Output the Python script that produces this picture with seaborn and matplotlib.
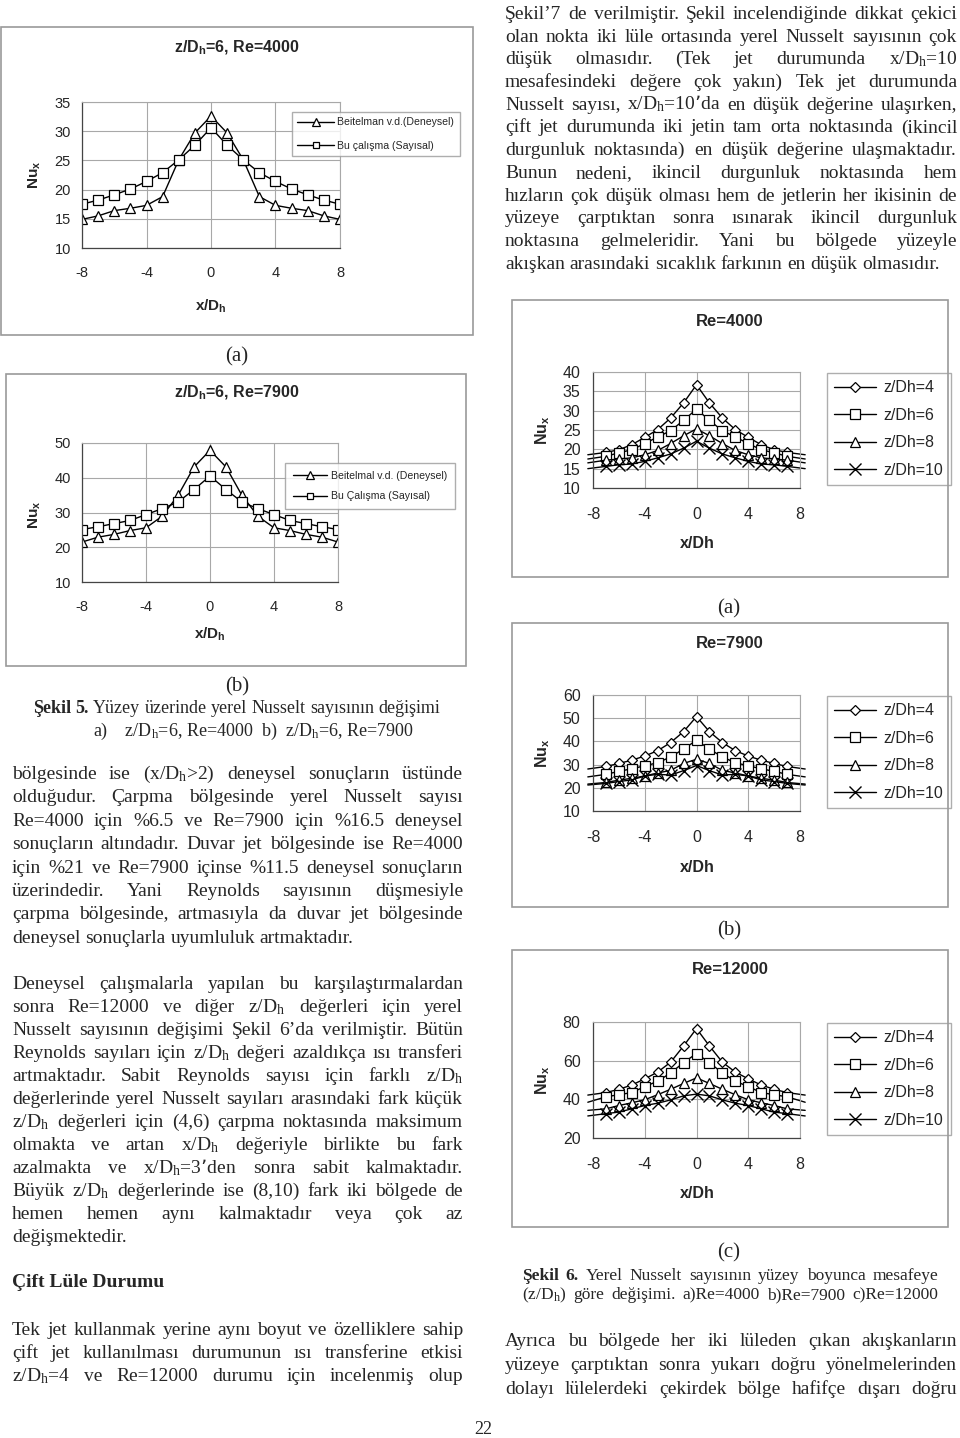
"""
Sayfa 22 - Sekil 5 ve Sekil 6 (yerel Nusselt sayisi dagilimlari)
"""

import matplotlib
matplotlib.use("Agg")
import matplotlib.pyplot as plt
import seaborn as sns
from matplotlib.patches import Rectangle
from matplotlib.lines import Line2D

W, H = 960, 1438

# ---- Sekil 5: tek jet, deneysel / sayisal karsilastirma ----
x_single = [-8, -7, -6, -5, -4, -3, -2, -1, 0, 1, 2, 3, 4, 5, 6, 7, 8]
re4000_deneysel = [14.9, 15.5, 16.4, 16.8, 17.3, 18.8, 25.1, 29.7, 32.6,
                   29.7, 25.1, 18.8, 17.3, 16.8, 16.4, 15.5, 14.9]
re4000_sayisal = [17.5, 18.2, 19.1, 20.1, 21.4, 22.9, 25.1, 27.6, 30.6,
                  27.6, 25.1, 22.9, 21.4, 20.1, 19.1, 18.2, 17.5]
re7900_deneysel = [21.5, 22.9, 23.7, 24.8, 25.6, 28.9, 34.9, 43.1, 47.9,
                   43.1, 34.9, 28.9, 25.6, 24.8, 23.7, 22.9, 21.5]
re7900_sayisal = [25.1, 25.9, 26.8, 27.7, 29.4, 31.1, 33.0, 36.6, 40.5,
                  36.6, 33.0, 31.1, 29.4, 27.7, 26.8, 25.9, 25.1]

# ---- Sekil 6: farkli z/Dh (uc noktalar isaretsiz) ----
x_double = [-8.4, -7, -6, -5, -4, -3, -2, -1, 0, 1, 2, 3, 4, 5, 6, 7, 8.4]
zdh_labels = ["z/Dh=4", "z/Dh=6", "z/Dh=8", "z/Dh=10"]
re4000_z = [
    [18.6, 19.2, 19.9, 21.2, 23.1, 25.1, 28.1, 32.0, 36.7, 32.0, 28.1, 25.1, 23.1, 21.2, 19.9, 19.2, 18.6],
    [17.5, 18.2, 19.1, 19.9, 21.5, 23.2, 24.8, 27.5, 30.4, 27.5, 24.8, 23.2, 21.5, 19.9, 19.1, 18.2, 17.5],
    [16.5, 17.2, 17.5, 17.8, 18.6, 19.7, 21.5, 23.5, 25.3, 23.5, 21.5, 19.7, 18.6, 17.8, 17.5, 17.2, 16.5],
    [15.0, 15.6, 16.0, 16.2, 16.9, 17.8, 18.8, 20.3, 22.1, 20.3, 18.8, 17.8, 16.9, 16.2, 16.0, 15.6, 15.0],
]
re7900_z = [
    [28.1, 29.2, 30.5, 31.9, 33.7, 36.0, 39.5, 44.2, 50.7, 44.2, 39.5, 36.0, 33.7, 31.9, 30.5, 29.2, 28.1],
    [24.7, 25.8, 27.1, 28.2, 29.5, 30.8, 33.3, 36.7, 40.5, 36.7, 33.3, 30.8, 29.5, 28.2, 27.1, 25.8, 24.7],
    [21.6, 22.3, 23.3, 24.1, 25.1, 26.4, 27.5, 30.5, 32.3, 30.5, 27.5, 26.4, 25.1, 24.1, 23.3, 22.3, 21.6],
    [21.2, 21.9, 22.7, 23.4, 25.1, 25.8, 25.5, 27.4, 29.6, 27.4, 25.5, 25.8, 25.1, 23.4, 22.7, 21.9, 21.2],
]
re12000_z = [
    [42.2, 43.5, 45.2, 47.4, 50.6, 54.1, 59.2, 67.6, 76.6, 67.6, 59.2, 54.1, 50.6, 47.4, 45.2, 43.5, 42.2],
    [38.5, 41.3, 42.4, 43.5, 46.6, 49.4, 53.6, 59.0, 63.7, 59.0, 53.6, 49.4, 46.6, 43.5, 42.4, 41.3, 38.5],
    [34.3, 35.1, 36.8, 38.2, 39.8, 42.4, 45.2, 48.2, 51.1, 48.2, 45.2, 42.4, 39.8, 38.2, 36.8, 35.1, 34.3],
    [31.4, 32.6, 33.4, 35.1, 36.8, 38.0, 39.7, 41.8, 42.7, 41.8, 39.7, 38.0, 36.8, 35.1, 33.4, 32.6, 31.4],
]
x_ticks = [-8, -4, 0, 4, 8]

# ---- sayfa metni ----
right_top_lines = [
    "Şekil’7 de verilmiştir. Şekil incelendiğinde dikkat çekici",
    "olan nokta iki lüle ortasında yerel Nusselt sayısının çok",
    "düşük olmasıdır. (Tek jet durumunda x/D$_h$=10",
    "mesafesindeki değere çok yakın) Tek jet durumunda",
    "Nusselt sayısı, x/D$_h$=10’da en düşük değerine ulaşırken,",
    "çift jet durumunda iki jetin tam orta noktasında (ikincil",
    "durgunluk noktasında) en düşük değerine ulaşmaktadır.",
    "Bunun nedeni, ikincil durgunluk noktasında hem",
    "hızların çok düşük olması hem de jetlerin her ikisinin de",
    "yüzeye çarptıktan sonra ısınarak ikincil durgunluk",
    "noktasına gelmeleridir. Yani bu bölgede yüzeyle",
    "akışkan arasındaki sıcaklık farkının en düşük olmasıdır.",
]
left_par1 = [
    "bölgesinde ise (x/D$_h$>2) deneysel sonuçların üstünde",
    "olduğudur. Çarpma bölgesinde yerel Nusselt sayısı",
    "Re=4000 için %6.5 ve Re=7900 için %16.5 deneysel",
    "sonuçların altındadır. Duvar jet bölgesinde ise Re=4000",
    "için %21 ve Re=7900 içinse %11.5 deneysel sonuçların",
    "üzerindedir. Yani Reynolds sayısının düşmesiyle",
    "çarpma bölgesinde, artmasıyla da duvar jet bölgesinde",
    "deneysel sonuçlarla uyumluluk artmaktadır.",
]
left_par2 = [
    "Deneysel çalışmalarla yapılan bu karşılaştırmalardan",
    "sonra Re=12000 ve diğer z/D$_h$ değerleri için yerel",
    "Nusselt sayısının değişimi Şekil 6’da verilmiştir. Bütün",
    "Reynolds sayıları için z/D$_h$ değeri azaldıkça ısı transferi",
    "artmaktadır. Sabit Reynolds sayısı için farklı z/D$_h$",
    "değerlerinde yerel Nusselt sayıları arasındaki fark küçük",
    "z/D$_h$ değerleri için (4,6) çarpma noktasında maksimum",
    "olmakta ve artan x/D$_h$ değeriyle birlikte bu fark",
    "azalmakta ve x/D$_h$=3’den sonra sabit kalmaktadır.",
    "Büyük z/D$_h$ değerlerinde ise (8,10) fark iki bölgede de",
    "hemen hemen aynı kalmaktadır veya çok az",
    "değişmektedir.",
]
left_par3 = [
    "Tek jet kullanmak yerine aynı boyut ve özelliklere sahip",
    "çift jet kullanılması durumunun ısı transferine etkisi",
    "z/D$_h$=4 ve Re=12000 durumu için incelenmiş olup",
]
right_par = [
    "Ayrıca bu bölgede her iki lüleden çıkan akışkanların",
    "yüzeye çarptıktan sonra yukarı doğru yönelmelerinden",
    "dolayı lülelerdeki çekirdek bölge hafifçe dışarı doğru",
]
sekil6_caption = [
    "Şekil 6. Yerel Nusselt sayısının yüzey boyunca mesafeye",
    "(z/D$_h$) göre değişimi. a)Re=4000 b)Re=7900 c)Re=12000",
]

sns.set_theme(style="white")
plt.rcParams["font.family"] = ["Liberation Sans", "DejaVu Sans"]
plt.rcParams["mathtext.default"] = "regular"
plt.rcParams["axes.unicode_minus"] = False
SERIF = ["Liberation Serif", "DejaVu Serif"]
GRID = "#a8a8a8"
BOX = "#9a9a9a"

fig = plt.figure(figsize=(W / 100, H / 100), dpi=100)
fig.patch.set_facecolor("white")
renderer = fig.canvas.get_renderer()


def fx(x):
    return x / W


def fy(y):
    return 1 - y / H


def put(x, y, s, size, **kw):
    return fig.text(fx(x), fy(y), s, fontsize=size, **kw)


def axes_px(x0, y0, x1, y1):
    return fig.add_axes([fx(x0), fy(y1), (x1 - x0) / W, (y1 - y0) / H])


def frame(x0, y0, x1, y1):
    fig.add_artist(Rectangle((fx(x0), fy(y1)), (x1 - x0) / W, (y1 - y0) / H,
                             transform=fig.transFigure, fill=False,
                             ec=BOX, lw=1.2))


def justify(line, x0, x1, base, size=14, bold_words=0, last=False):
    words = line.split(" ")
    texts = []
    for i, w in enumerate(words):
        t = put(0, base, w, size, family=SERIF, va="baseline",
                weight="bold" if i < bold_words else "normal")
        texts.append(t)
    widths = [t.get_window_extent(renderer).width for t in texts]
    if last or len(words) == 1:
        gap = size * 100 / 72 * 0.25
    else:
        gap = (x1 - x0 - sum(widths)) / (len(words) - 1)
    x = x0
    for t, w in zip(texts, widths):
        t.set_position((fx(x), fy(base)))
        x += w + gap


def style_axes(ax, ylim, yticks, size, xpad, ypad):
    ax.set_xlim(-8, 8)
    ax.set_xticks(x_ticks)
    ax.set_ylim(*ylim)
    ax.set_yticks(yticks)
    ax.set_xlabel("")
    ax.set_ylabel("")
    ax.grid(True, color=GRID, lw=0.8)
    ax.set_axisbelow(True)
    for s in ["top", "right"]:
        ax.spines[s].set_color(GRID)
        ax.spines[s].set_linewidth(0.8)
    for s in ["left", "bottom"]:
        ax.spines[s].set_color("#444444")
        ax.spines[s].set_linewidth(0.9)
    ax.tick_params(axis="both", direction="out", length=3, width=0.8,
                   color="#444444", labelsize=size)
    ax.tick_params(axis="x", pad=xpad)
    ax.tick_params(axis="y", pad=ypad)


def add_legend(ax, handles, labels, x0, y0, size, hl, ls, bp, htp):
    leg = ax.legend(handles, labels, loc="upper left",
                    bbox_to_anchor=(fx(x0), fy(y0)),
                    bbox_transform=fig.transFigure, fontsize=size,
                    frameon=True, fancybox=False, edgecolor=BOX,
                    handlelength=hl, labelspacing=ls, borderpad=bp,
                    handletextpad=htp, borderaxespad=0)
    leg.get_frame().set_linewidth(1.0)


def handle(marker, ms, mew=0.9):
    return Line2D([], [], color="black", lw=1.0, marker=marker, ms=ms,
                  mfc="white", mec="black", mew=mew)


# ===================== Sekil 5 =====================
single_cfg = [
    dict(box=(1, 27, 473, 335), area=(82, 102, 340, 248),
         title="z/D$_h$=6, Re=4000", title_y=48,
         deney=re4000_deneysel, sayisal=re4000_sayisal,
         labels=["Beitelman v.d.(Deneysel)", "Bu çalışma (Sayısal)"],
         leg=(292, 112), leg_style=(7.6, 3.5, 1.3, 0.5, 0.3),
         ylim=(10, 35), yticks=[10, 15, 20, 25, 30, 35],
         ylab_y=175, xlab_y=306),
    dict(box=(6, 374, 466, 666), area=(82, 443, 338, 582),
         title="z/D$_h$=6, Re=7900", title_y=393,
         deney=re7900_deneysel, sayisal=re7900_sayisal,
         labels=["Beitelmal v.d. (Deneysel)", "Bu Çalışma (Sayısal)"],
         leg=(285, 463), leg_style=(7.6, 3.2, 1.0, 0.75, 0.4),
         ylim=(10, 50), yticks=[10, 20, 30, 40, 50],
         ylab_y=515, xlab_y=634),
]

for cfg in single_cfg:
    frame(*cfg["box"])
    ax = axes_px(*cfg["area"])
    sns.lineplot(x=x_single, y=cfg["deney"], ax=ax, color="black", lw=1.0,
                 marker="^", ms=7.5, mfc="white", mec="black", mew=0.9,
                 estimator=None)
    sns.lineplot(x=x_single, y=cfg["sayisal"], ax=ax, color="black", lw=1.0,
                 marker="s", ms=6.5, mfc="white", mec="black", mew=0.9,
                 estimator=None)
    style_axes(ax, cfg["ylim"], cfg["yticks"], 10.5, 10, 5)
    size, hl, ls, bp, htp = cfg["leg_style"]
    add_legend(ax, [handle("^", 6), handle("s", 5)], cfg["labels"],
               *cfg["leg"], size, hl, ls, bp, htp)
    x_mid = (cfg["area"][0] + cfg["area"][2]) / 2
    put(237, cfg["title_y"], cfg["title"], 11.5, weight="bold",
        ha="center", va="center")
    put(x_mid, cfg["xlab_y"], "x/D$_h$", 11, weight="bold",
        ha="center", va="center")
    put(35, cfg["ylab_y"], "Nu$_x$", 11, weight="bold", rotation=90,
        ha="center", va="center")

put(237, 357, "(a)", 15, family=SERIF, ha="center", va="center")
put(237, 687, "(b)", 15, family=SERIF, ha="center", va="center")

# ===================== Sekil 6 =====================
markers = [("D", 5.5, 0.9), ("s", 6.5, 0.9), ("^", 7, 0.9), ("x", 8, 1.0)]
double_cfg = [
    dict(box=(512, 300, 948, 577), top=322, data=re4000_z,
         ylim=(10, 40), yticks=[10, 15, 20, 25, 30, 35, 40],
         tag="(a)", tag_y=609, title="Re=4000"),
    dict(box=(512, 623, 948, 907), top=644, data=re7900_z,
         ylim=(10, 60), yticks=[10, 20, 30, 40, 50, 60],
         tag="(b)", tag_y=931, title="Re=7900"),
    dict(box=(512, 950, 948, 1227), top=970, data=re12000_z,
         ylim=(20, 80), yticks=[20, 40, 60, 80],
         tag="(c)", tag_y=1253, title="Re=12000"),
]

for cfg in double_cfg:
    b = cfg["box"]
    frame(*b)
    y_top = b[1] + 72
    y_bot = b[1] + 188
    ax = axes_px(593, y_top, 800, y_bot)
    for ys, (m, ms, mew) in zip(cfg["data"], markers):
        sns.lineplot(x=x_double, y=ys, ax=ax, color="black", lw=1.0,
                     marker=m, ms=ms, mfc="white", mec="black", mew=mew,
                     markevery=slice(1, -1), clip_on=False, estimator=None)
    style_axes(ax, cfg["ylim"], cfg["yticks"], 11.5, 11, 6)
    add_legend(ax, [handle(m, ms, mew) for m, ms, mew in markers], zdh_labels,
               827, y_top + 1, 11.5, 2.6, 0.78, 0.45, 0.5)
    put(730, cfg["top"], cfg["title"], 12, weight="bold",
        ha="center", va="center")
    put(697, b[1] + 244, "x/Dh", 11.5, weight="bold", ha="center", va="center")
    put(543, b[1] + 130, "Nu$_x$", 11.5, weight="bold", rotation=90,
        ha="center", va="center")
    put(729, cfg["tag_y"], cfg["tag"], 15, family=SERIF,
        ha="center", va="center")

# ===================== metin =====================
for i, line in enumerate(right_top_lines):
    justify(line, 505, 957, 19 + 22.7 * i, last=(i == len(right_top_lines) - 1))

justify("Şekil 5. Yüzey üzerinde yerel Nusselt sayısının değişimi",
        33, 440, 713, size=13, bold_words=2)
put(93, 736, "a)    z/D$_h$=6, Re=4000  b)  z/D$_h$=6, Re=7900", 13,
    family=SERIF, va="baseline")

for i, line in enumerate(left_par1):
    justify(line, 12, 463, 779 + 23.4 * i, last=(i == len(left_par1) - 1))
for i, line in enumerate(left_par2):
    justify(line, 12, 463, 989 + 23.0 * i, last=(i == len(left_par2) - 1))

put(12, 1287, "Çift Lüle Durumu", 14, family=SERIF, weight="bold",
    va="baseline")
for i, line in enumerate(left_par3):
    justify(line, 12, 463, 1335 + 23.0 * i)

justify(sekil6_caption[0], 522, 938, 1280, size=12.5, bold_words=2)
justify(sekil6_caption[1], 522, 938, 1299, size=12.5)
for i, line in enumerate(right_par):
    justify(line, 505, 957, 1346 + 24.0 * i)

put(483, 1430, "22", 13, family=SERIF, ha="center", va="center")

fig.savefig("out.png", dpi=100)
